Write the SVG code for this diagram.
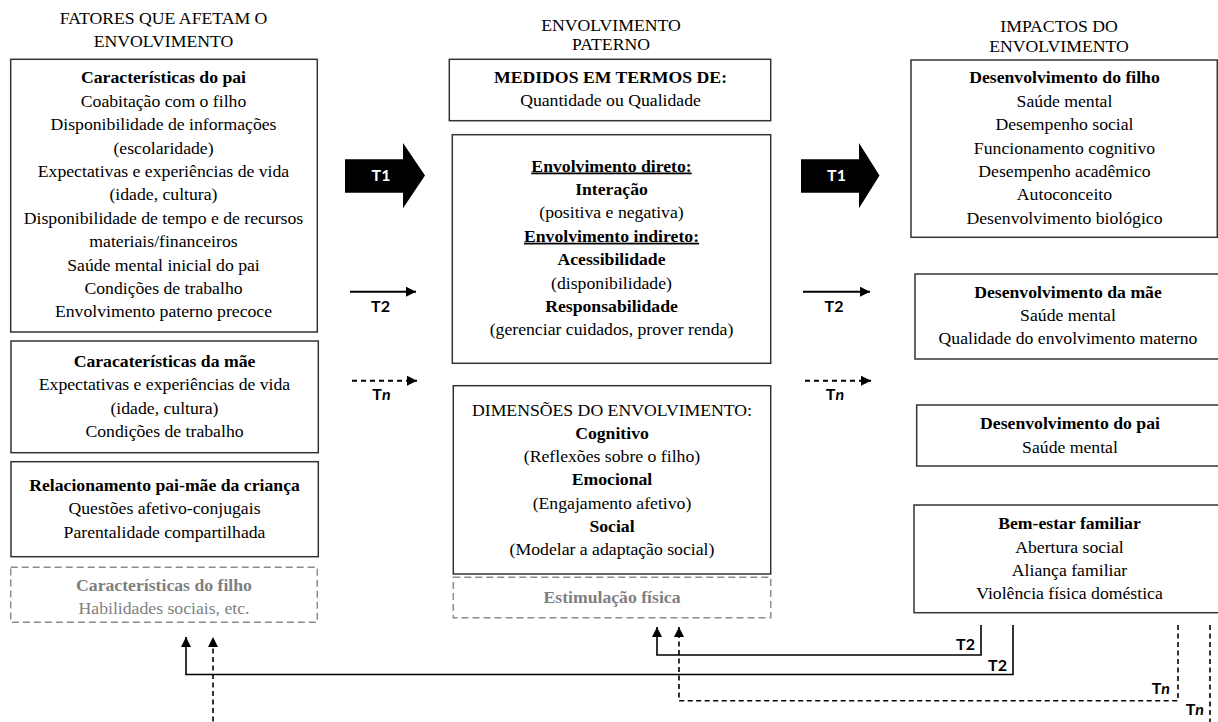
<svg xmlns="http://www.w3.org/2000/svg" width="1218" height="722" viewBox="0 0 1218 722">
<style>
.t{font-family:"Liberation Serif","Times New Roman",serif;font-size:17.7px;text-anchor:middle;fill:#000}
.b{font-weight:bold}
.u{text-decoration:underline}
.g{fill:#7f7f7f}
.lbl{font-family:Lato,"Liberation Sans",sans-serif;font-weight:bold;font-size:16px;fill:#000}
.box{fill:#fff;stroke:#333;stroke-width:1.5}
.dbox{fill:none;stroke:#8c8c8c;stroke-width:1.5;stroke-dasharray:7 4}
.ln{fill:none;stroke:#000;stroke-width:1.6}
.dl{fill:none;stroke:#000;stroke-width:1.6;stroke-dasharray:5 3.5}
</style>
<defs>
<marker id="ah" markerUnits="userSpaceOnUse" markerWidth="11" markerHeight="10" refX="10" refY="5" orient="auto"><path d="M0,0 L10,5 L0,10 z" fill="#000"/></marker>
</defs>

<g id="headers">
<text class="t" x="163.5" y="23.5">FATORES QUE AFETAM O</text>
<text class="t" x="163.5" y="47">ENVOLVIMENTO</text>
<text class="t" x="611" y="30.5">ENVOLVIMENTO</text>
<text class="t" x="611" y="50">PATERNO</text>
<text class="t" x="1059" y="31.5">IMPACTOS DO</text>
<text class="t" x="1059" y="51.5">ENVOLVIMENTO</text>
</g>

<g id="pai">
<rect class="box" x="10.7" y="59.3" width="306.6" height="272.7"/>
<text class="t b" x="163.5" y="83.3">Características do pai</text>
<text class="t" x="163.5" y="106.7">Coabitação com o filho</text>
<text class="t" x="163.5" y="130.1">Disponibilidade de informações</text>
<text class="t" x="163.5" y="153.5">(escolaridade)</text>
<text class="t" x="163.5" y="176.9">Expectativas e experiências de vida</text>
<text class="t" x="163.5" y="200.3">(idade, cultura)</text>
<text class="t" x="163.5" y="223.7">Disponibilidade de tempo e de recursos</text>
<text class="t" x="163.5" y="247.1">materiais/financeiros</text>
<text class="t" x="163.5" y="270.5">Saúde mental inicial do pai</text>
<text class="t" x="163.5" y="293.9">Condições de trabalho</text>
<text class="t" x="163.5" y="317.3">Envolvimento paterno precoce</text>
</g>

<g id="mae">
<rect class="box" x="11" y="341" width="307.3" height="111.7"/>
<text class="t b" x="164.5" y="366.7">Caracaterísticas da mãe</text>
<text class="t" x="164.5" y="390">Expectativas e experiências de vida</text>
<text class="t" x="164.5" y="413.5">(idade, cultura)</text>
<text class="t" x="164.5" y="437">Condições de trabalho</text>
</g>

<g id="relacionamento">
<rect class="box" x="11" y="461.7" width="307.3" height="95"/>
<text class="t b" x="164.5" y="491">Relacionamento pai-mãe da criança</text>
<text class="t" x="164.5" y="514">Questões afetivo-conjugais</text>
<text class="t" x="164.5" y="537.5">Parentalidade compartilhada</text>
</g>

<g id="filho">
<rect class="dbox" x="10.7" y="567.3" width="306.6" height="55"/>
<text class="t b g" x="164" y="591">Características do filho</text>
<text class="t g" x="164" y="613.5">Habilidades sociais, etc.</text>
</g>

<g id="medidos">
<rect class="box" x="449.3" y="59.3" width="321.4" height="61.4"/>
<text class="t b" x="610.5" y="83.3">MEDIDOS EM TERMOS DE:</text>
<text class="t" x="610.5" y="105.5">Quantidade ou Qualidade</text>
</g>

<g id="tipos">
<rect class="box" x="452.3" y="134.7" width="318.4" height="228.6"/>
<text class="t b u" x="611.5" y="171.5">Envolvimento direto:</text>
<text class="t b" x="611.5" y="195">Interação</text>
<text class="t" x="611.5" y="218.3">(positiva e negativa)</text>
<text class="t b u" x="611.5" y="241.7">Envolvimento indireto:</text>
<text class="t b" x="611.5" y="265.2">Acessibilidade</text>
<text class="t" x="611.5" y="288.5">(disponibilidade)</text>
<text class="t b" x="611.5" y="311.7">Responsabilidade</text>
<text class="t" x="611.5" y="335">(gerenciar cuidados, prover renda)</text>
</g>

<g id="dimensoes">
<rect class="box" x="453.3" y="385.7" width="317.4" height="188.3"/>
<text class="t" x="612" y="416">DIMENSÕES DO ENVOLVIMENTO:</text>
<text class="t b" x="612" y="439">Cognitivo</text>
<text class="t" x="612" y="462">(Reflexões sobre o filho)</text>
<text class="t b" x="612" y="485">Emocional</text>
<text class="t" x="612" y="508.5">(Engajamento afetivo)</text>
<text class="t b" x="612" y="532">Social</text>
<text class="t" x="612" y="555">(Modelar a adaptação social)</text>
</g>

<g id="estimulacao">
<rect class="dbox" x="453.3" y="577.3" width="317.4" height="40.4"/>
<text class="t b g" x="612" y="602.5">Estimulação física</text>
</g>

<g id="dev-filho">
<rect class="box" x="911" y="60" width="306.3" height="177.3"/>
<text class="t b" x="1064.5" y="83.3">Desenvolvimento do filho</text>
<text class="t" x="1064.5" y="106.7">Saúde mental</text>
<text class="t" x="1064.5" y="130.1">Desempenho social</text>
<text class="t" x="1064.5" y="153.5">Funcionamento cognitivo</text>
<text class="t" x="1064.5" y="177">Desempenho acadêmico</text>
<text class="t" x="1064.5" y="200.4">Autoconceito</text>
<text class="t" x="1064.5" y="223.8">Desenvolvimento biológico</text>
</g>

<g id="dev-mae">
<rect class="box" x="915" y="274" width="310" height="85"/>
<text class="t b" x="1068" y="297.5">Desenvolvimento da mãe</text>
<text class="t" x="1068" y="321">Saúde mental</text>
<text class="t" x="1068" y="344.3">Qualidade do envolvimento materno</text>
</g>

<g id="dev-pai">
<rect class="box" x="916.7" y="405" width="310" height="61"/>
<text class="t b" x="1070" y="429.3">Desenvolvimento do pai</text>
<text class="t" x="1070" y="452.5">Saúde mental</text>
</g>

<g id="bem-estar">
<rect class="box" x="914" y="505" width="312" height="107.7"/>
<text class="t b" x="1069.5" y="529.3">Bem-estar familiar</text>
<text class="t" x="1069.5" y="552.7">Abertura social</text>
<text class="t" x="1069.5" y="576">Aliança familiar</text>
<text class="t" x="1069.5" y="599.3">Violência física doméstica</text>
</g>

<g id="connectors">
<path d="M345,159.3 L403,159.3 L403,143 L425,175.5 L403,208.3 L403,192.7 L345,192.7 Z" fill="#000"/>
<path d="M801,159.3 L859,159.3 L859,143 L879.5,175.5 L859,208.3 L859,192.7 L801,192.7 Z" fill="#000"/>
<text class="lbl" x="381" y="181" text-anchor="middle" style="fill:#fff">T1</text>
<text class="lbl" x="836.5" y="181" text-anchor="middle" style="fill:#fff">T1</text>

<line x1="350" y1="291.7" x2="416" y2="291.7" class="ln" style="stroke-width:2" marker-end="url(#ah)"/>
<text class="lbl" x="380.5" y="312" text-anchor="middle">T2</text>
<line x1="803" y1="291.7" x2="870" y2="291.7" class="ln" style="stroke-width:2" marker-end="url(#ah)"/>
<text class="lbl" x="834" y="312" text-anchor="middle">T2</text>

<line x1="352" y1="380.7" x2="417" y2="380.7" class="dl" style="stroke-width:2;stroke-dasharray:5 4" marker-end="url(#ah)"/>
<text class="lbl" x="381.5" y="399.5" text-anchor="middle">T<tspan font-style="italic">n</tspan></text>
<line x1="805" y1="380.7" x2="871" y2="380.7" class="dl" style="stroke-width:2;stroke-dasharray:5 4" marker-end="url(#ah)"/>
<text class="lbl" x="835" y="399.5" text-anchor="middle">T<tspan font-style="italic">n</tspan></text>

<polyline points="981,625 981,655 657,655 657,627" class="ln" marker-end="url(#ah)"/>
<polyline points="1013,625 1013,674.5 186,674.5 186,637" class="ln" marker-end="url(#ah)"/>
<polyline points="1178,625 1178,700.7 679,700.7 679,627" class="dl" marker-end="url(#ah)"/>
<line x1="1210" y1="625" x2="1210" y2="730" class="dl"/>
<line x1="213" y1="730" x2="213" y2="637" class="dl" marker-end="url(#ah)"/>

<text class="lbl" x="975" y="649.5" text-anchor="end">T2</text>
<text class="lbl" x="1007" y="671" text-anchor="end">T2</text>
<text class="lbl" x="1170" y="693.5" text-anchor="end">T<tspan font-style="italic">n</tspan></text>
<text class="lbl" x="1204" y="715" text-anchor="end">T<tspan font-style="italic">n</tspan></text>
</g>
</svg>
